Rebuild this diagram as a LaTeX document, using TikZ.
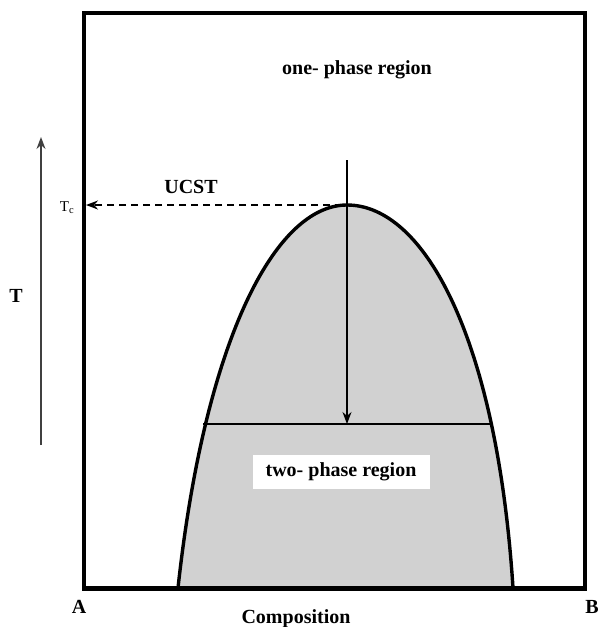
\documentclass[tikz,border=0pt]{standalone}
\usepackage{fontspec}
\setmainfont{Liberation Serif}
\usetikzlibrary{arrows.meta}
\begin{document}
\begin{tikzpicture}[x=1pt,y=-1pt,
  lbl/.style={font=\fontsize{20}{22}\selectfont\bfseries, inner sep=0pt},
  thin/.style={line width=1.3pt},
  tip/.style={-{Stealth[length=12pt,width=9pt]}}]
\useasboundingbox (0,0) rectangle (601,627);
\def\dome{(178,588) .. controls (205,340) and (275,205) .. (347,205) .. controls (425,205) and (497,340) .. (513,588)}
% two-phase fill
\fill[black!18] \dome -- cycle;
% box
\draw[line width=3.2pt] (84,588) -- (84,13) -- (585,13) -- (585,588);
\draw[line width=5pt] (82,588) -- (587,588);
% binodal curve
\draw[line width=3.4pt, line join=round] \dome;
% coordinates
\coordinate (peak) at (342,205);
\coordinate (axisTc) at (86,205);
\coordinate (tieL) at (203,424);
\coordinate (tieR) at (492,424);
\coordinate (drop) at (347,160);
\coordinate (dropend) at (347,424);
\coordinate (Tlow) at (41,445);
\coordinate (Thigh) at (41,137);
% tie line
\draw[thin] (tieL) -- (tieR);
% vertical arrow
\draw[thin, tip] (drop) -- (dropend);
% dashed arrow
\draw[line width=1.8pt, dash pattern=on 7pt off 5pt, tip] (peak) -- (axisTc);
% T axis
\draw[line width=1.4pt, black!75, tip] (Tlow) -- (Thigh);
% labels
\node[lbl] (one) at (357,70) {one- phase region};
\node[lbl, fill=white, minimum width=177pt, minimum height=34pt] (two) at (341,472) {two- phase region};
\node[lbl] (ucst) at (191,187) {UCST};
\node[font=\fontsize{15}{17}\selectfont, inner sep=0pt] (tc) at (67,208) {T$_{\mathrm{c}}$};
\node[lbl] (T) at (16,296) {T};
\node[lbl] (A) at (79,607) {A};
\node[lbl] (B) at (592,607) {B};
\node[lbl] (comp) at (296,619) {Composition};
\end{tikzpicture}
\end{document}
